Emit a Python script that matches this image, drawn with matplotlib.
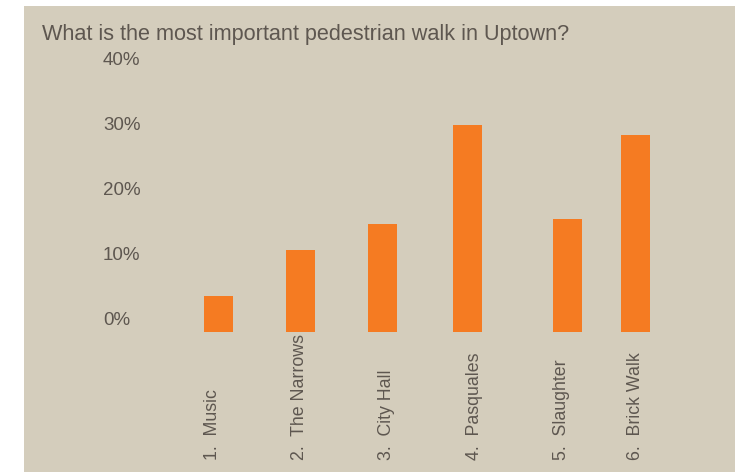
import matplotlib.pyplot as plt
from matplotlib.patches import Rectangle
from matplotlib.transforms import ScaledTranslation, blended_transform_factory

plt.rcParams['font.family'] = ['Liberation Sans', 'DejaVu Sans']

# Data
categories = ["1.  Music", "2.  The Narrows", "3.  City Hall", "4.  Pasquales",
              "5.  Slaughter", "6.  Brick Walk"]
values = [5.5, 12.6, 16.6, 31.8, 17.3, 30.3]
y_ticks = [0, 10, 20, 30, 40]
y_tick_labels = ["0%", "10%", "20%", "30%", "40%"]

# layout (bars in the original are not evenly spaced)
bar_pos = [0, 1, 2, 3.04, 4.26, 5.08]
label_pos = [-0.07, 0.99, 2.05, 3.12, 4.18, 5.08]

bg = '#d4cdbc'
orange = '#f57b22'
text_color = '#5e5750'

W, H = 735, 472
fig = plt.figure(figsize=(W / 100, H / 100), dpi=100, facecolor='white')
fig.patches.append(Rectangle((24 / W, 0), 1 - 24 / W, 1 - 6 / H, transform=fig.transFigure,
                             facecolor=bg, edgecolor='none', zorder=-5))

unit = 82.0
left_px = 218.5 - unit
ax = fig.add_axes([left_px / W, (H - 331.7) / H, unit * 7.2 / W, 273 / H])
ax.patch.set_visible(False)
for s in ax.spines.values():
    s.set_visible(False)

ax.bar(bar_pos, values, width=29 / unit, color=orange, zorder=2)
ax.set_xlim(-1, 6.2)
ax.set_ylim(0, 42)

ax.set_xticks([])
ax.set_yticks(y_ticks)
ax.set_yticklabels(y_tick_labels, fontsize=13.5, color=text_color, ha='left')
ax.tick_params(axis='y', length=0, pad=0)
shift = ScaledTranslation(-33.5 / 100, 13 / 100, fig.dpi_scale_trans)
for lab in ax.get_yticklabels():
    lab.set_transform(lab.get_transform() + shift)

trans = blended_transform_factory(ax.transData, ax.transAxes)
for x, name in zip(label_pos, categories):
    ax.text(x, (331.7 - 460) / 273, name, rotation=90, ha='center', va='bottom',
            fontsize=12.8, color=text_color, transform=trans)

fig.text(42 / W, 1 - 40 / H, "What is the most important pedestrian walk in Uptown?",
         fontsize=15.6, color=text_color, ha='left', va='baseline')

fig.savefig('out.png', dpi=100, facecolor='white')
